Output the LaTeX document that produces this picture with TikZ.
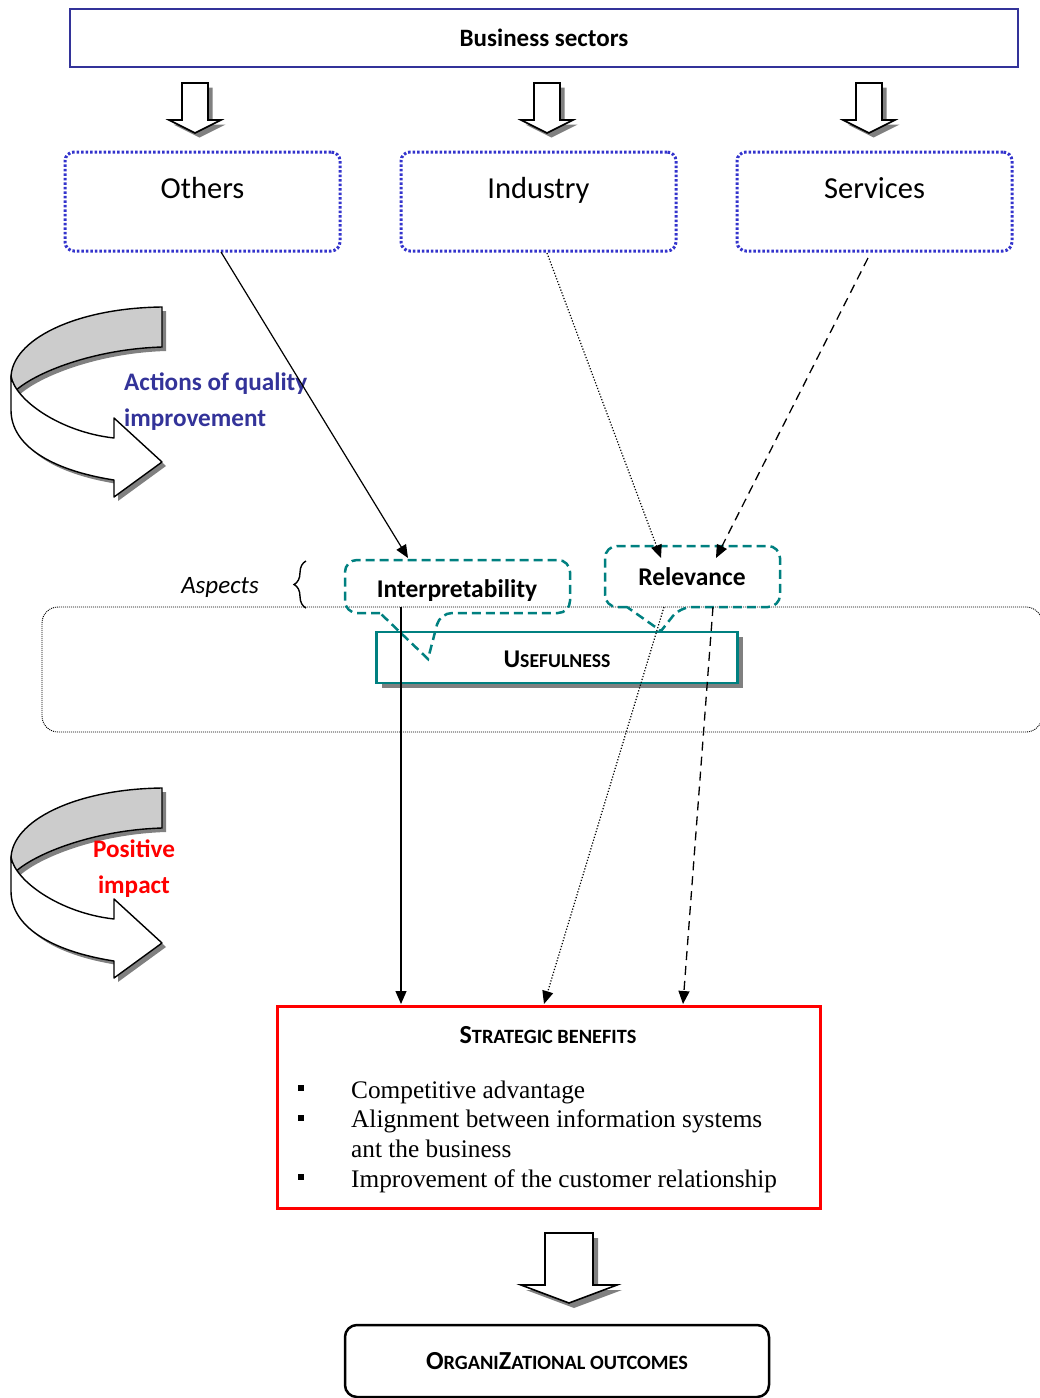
\documentclass[tikz,border=0pt]{standalone}
\usepackage{fontspec}
\setmainfont{Carlito}
\newfontfamily\tnr{Liberation Serif}
\usetikzlibrary{arrows.meta,decorations.pathreplacing,shadows}
\definecolor{bsblue}{RGB}{51,51,153}
\definecolor{dotblue}{RGB}{51,51,204}
\definecolor{tealc}{RGB}{0,128,128}
\definecolor{shgray}{RGB}{128,128,128}
\definecolor{bandgray}{RGB}{204,204,204}
\definecolor{redc}{RGB}{255,0,0}
\newcommand\bdarrow[7]{%
  \begin{scope}[shift={(#1,#2)}]
    \fill[shgray,shift={(#7,#7)}] (-#3,0) -- (#3,0) -- (#3,#5) -- (#4,#5) -- (0,#6) -- (-#4,#5) -- (-#3,#5) -- cycle;
    \draw[fill=white,line width=1.6] (-#3,0) -- (#3,0) -- (#3,#5) -- (#4,#5) -- (0,#6) -- (-#4,#5) -- (-#3,#5) -- cycle;
  \end{scope}}
\newcommand\curvearrow[1]{%
  \begin{scope}[shift={(0,#1)}]
    \begin{scope}[shift={(4,4)}]
      \fill[shgray] (162,307) .. controls (75,308) and (11,340) .. (11,378) -- (14,392) .. controls (35,372) and (95,349) .. (162,347) -- cycle;
      \fill[shgray] (11,376) .. controls (15,400) and (60,432) .. (114,438) -- (114,418) -- (162,462) -- (114,497) -- (114,480) .. controls (50,470) and (11,445) .. (11,410) -- cycle;
    \end{scope}
    \draw[fill=bandgray,line width=1.4] (162,307) .. controls (75,308) and (11,340) .. (11,378) -- (14,392) .. controls (35,372) and (95,349) .. (162,347) -- cycle;
    \draw[fill=white,line width=1.4,line join=round] (11,376) .. controls (15,400) and (60,432) .. (114,438) -- (114,418) -- (162,462) -- (114,497) -- (114,480) .. controls (50,470) and (11,445) .. (11,410) -- cycle;
  \end{scope}}
\begin{document}
\begin{tikzpicture}[x=1pt,y=-1pt,
  secbox/.style={draw=bsblue,line width=2.5,minimum width=948,minimum height=58,inner sep=0,font=\fontsize{25}{29}\selectfont\bfseries},
  dotbox/.style={draw=dotblue,line width=3,dash pattern=on 2.5pt off 2pt,rounded corners=9,minimum width=275,minimum height=99,inner sep=0,text height=21,text depth=28,font=\fontsize{30.5}{35}\selectfont},
  callout/.style={draw=tealc,line width=2.5,dash pattern=on 9pt off 5pt,rounded corners=12},
  calltext/.style={inner sep=0,font=\fontsize{25.5}{29}\selectfont\bfseries},
  areabox/.style={draw,line width=0.9,dash pattern=on 1pt off 1pt,rounded corners=16,minimum width=1000,minimum height=125,inner sep=0},
  usebox/.style={draw=tealc,line width=2.5,fill=white,minimum width=361,minimum height=51,inner sep=0,text height=24,text depth=5,
     drop shadow={shadow xshift=5pt,shadow yshift=-5pt,fill=shgray,opacity=1},font=\bfseries},
  stratbox/.style={draw=redc,line width=3,minimum width=543,minimum height=202,inner sep=0},
  orgbox/.style={draw,line width=2.5,rounded corners=12,minimum width=424,minimum height=72,inner sep=0,font=\bfseries},
  arr/.style={-{Triangle[length=13pt,width=11pt]},line width=1.2},
  dotline/.style={arr,line width=1.2,dash pattern=on 1.2pt off 1.8pt},
  dashline/.style={arr,line width=1.3,dash pattern=on 9pt off 6pt},
  sidetext/.style={inner sep=0,font=\fontsize{25.2}{36}\selectfont\bfseries}
]
\useasboundingbox (0,0) rectangle (1040,1398);

% header
\node[secbox] (bs) at (544,38) {Business sectors};
\bdarrow{195}{83}{13}{26}{37}{50}{4.5}
\bdarrow{547}{83}{13}{26}{37}{50}{4.5}
\bdarrow{869}{83}{13}{26}{37}{50}{4.5}

\node[dotbox] (others) at (202.5,201.5) {Others};
\node[dotbox] (industry) at (538.5,201.5) {Industry};
\node[dotbox] (services) at (874.5,201.5) {Services};

% curved arrows
\curvearrow{0}
\curvearrow{481}
\node[sidetext,text=bsblue,anchor=west,align=left] (actions) at (124,402) {Actions of quality\\improvement};
\node[sidetext,text=redc,align=center] (positive) at (134,869) {Positive\\impact};

% usefulness area
\node[areabox] (area) at (542,669.5) {};
\node[usebox] (useful) at (557,657.5) {{\fontsize{25.5}{29}\selectfont U}{\fontsize{19.7}{23}\selectfont SEFULNESS}};

% aspects
\node[inner sep=0,font=\fontsize{25}{29}\selectfont\itshape] (aspects) at (220,587) {Aspects};
\draw[line width=1.4,decorate,decoration={brace,amplitude=12pt}] (306,608) -- (306,561);

% callouts
\draw[callout] (380,613) -- (345,613) -- (345,560) -- (570,560) -- (570,613) -- (440,613) [sharp corners] -- (428,659) -- cycle;
\node[calltext] (interp) at (457,590.5) {Interpretability};
\draw[callout] (627,607) -- (605,607) -- (605,546) -- (780,546) -- (780,607) -- (680,607) [sharp corners] -- (661,631) -- cycle;
\node[calltext] (relev) at (692,576.5) {Relevance};

% connector endpoints
\coordinate (othersOut) at (221,252);
\coordinate (industryOut) at (547,253);
\coordinate (servicesOut) at (868,258);
\coordinate (interpIn) at (408,558);
\coordinate (relevInA) at (661,558);
\coordinate (relevInB) at (716,558);
\coordinate (interpOut) at (401,607);
\coordinate (relevOutA) at (664,607);
\coordinate (relevOutB) at (713,607);
\coordinate (sbInA) at (401,1004);
\coordinate (sbInB) at (544,1004);
\coordinate (sbInC) at (683,1004);

\draw[arr] (othersOut) -- (interpIn);
\draw[dotline] (industryOut) -- (relevInA);
\draw[dashline] (servicesOut) -- (relevInB);
\draw[arr] (interpOut) -- (sbInA);
\draw[dotline] (relevOutA) -- (sbInB);
\draw[dashline] (relevOutB) -- (sbInC);

% strategic benefits
\node[stratbox] (strat) at (548.5,1107) {};
\node[inner sep=0,font=\bfseries] (strattitle) at (548,1035) {{\fontsize{26}{30}\selectfont S}{\fontsize{20.3}{24}\selectfont TRATEGIC BENEFITS}};
\node[inner sep=0,anchor=north west,font=\tnr\fontsize{25.3}{29.7}\selectfont] (stratlist) at (298,1077) {%
  \begin{tabular}{@{}p{53pt}@{}l@{}}
  \raisebox{7pt}{\rule{6pt}{6pt}} & Competitive advantage\\
  \raisebox{7pt}{\rule{6pt}{6pt}} & Alignment between information systems\\
   & ant the business\\
  \raisebox{7pt}{\rule{6pt}{6pt}} & Improvement of the customer relationship
  \end{tabular}};

\bdarrow{569}{1233}{24}{48}{52}{70}{5}

\node[orgbox] (org) at (557,1361) {{\fontsize{26}{30}\selectfont O}{\fontsize{20.3}{24}\selectfont RGANI}{\fontsize{26}{30}\selectfont Z}{\fontsize{20.3}{24}\selectfont ATIONAL OUTCOMES}};
\end{tikzpicture}
\end{document}
